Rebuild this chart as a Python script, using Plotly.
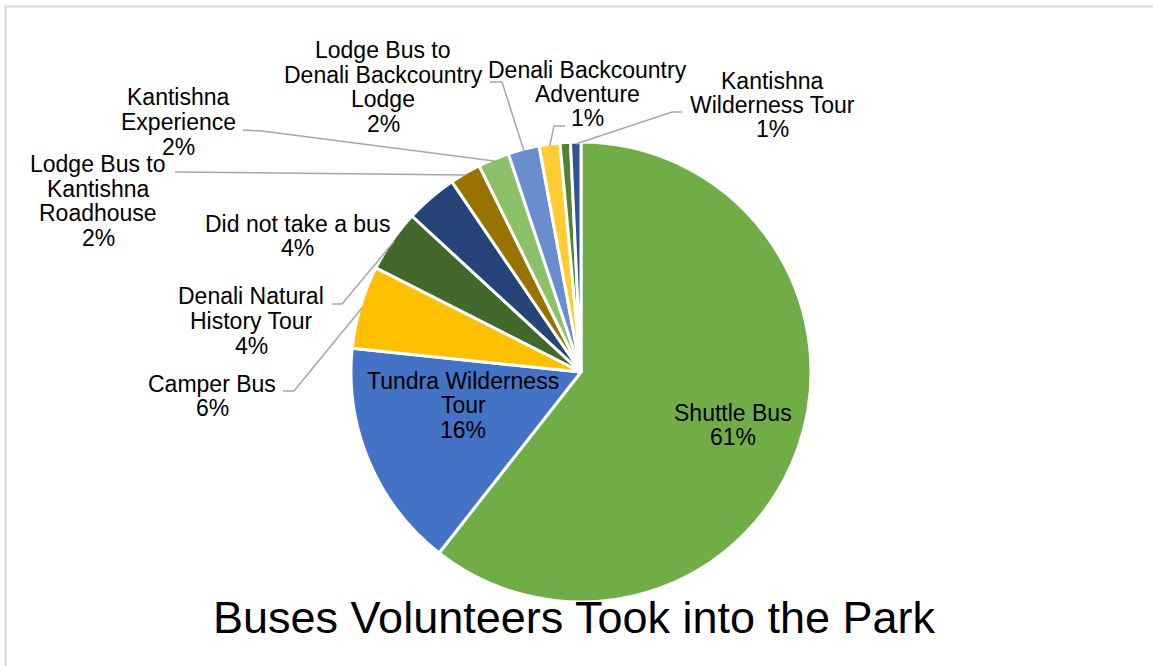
import math
import plotly.graph_objects as go

# Survey responses: which bus volunteers took into the park
categories = [
    "Shuttle Bus",
    "Tundra Wilderness Tour",
    "Camper Bus",
    "Denali Natural History Tour",
    "Did not take a bus",
    "Lodge Bus to Kantishna Roadhouse",
    "Kantishna Experience",
    "Lodge Bus to Denali Backcountry Lodge",
    "Denali Backcountry Adventure",
    "Other",
    "Kantishna Wilderness Tour",
]
counts = [83, 22, 8, 6, 5, 3, 3, 3, 2, 1, 1]
slice_colors = [
    "#70AD47", "#4472C4", "#FFC000",
    "#43682B", "#264478", "#997300",
    "#8CC168", "#698ED0", "#FFCC33",
    "#548235", "#2F5597",
]
title_text = "Buses Volunteers Took into the Park"

# ---- layout (pixels) ----
W, H = 1153, 666
CX, CY, R = 581, 372, 230
FONT = "Arial, Liberation Sans, Helvetica, sans-serif"
LABEL_SIZE = 23
LINE_STEP = 24.5
LEADER_COLOR = "#A6A6A6"

# wrapped label text, label centre, and the bend points of each leader line
label_layout = {
    "Shuttle Bus": dict(lines=["Shuttle Bus"], pos=(733, 425), leader=None),
    "Tundra Wilderness Tour": dict(lines=["Tundra Wilderness", "Tour"], pos=(463, 405), leader=None),
    "Camper Bus": dict(lines=["Camper Bus"], pos=(212, 396), leader=[(283, 391), (294, 391)]),
    "Denali Natural History Tour": dict(lines=["Denali Natural", "History Tour"], pos=(251, 321),
                                        leader=[(332, 304), (342, 304)]),
    "Did not take a bus": dict(lines=["Did not take a bus"], pos=(297, 236), leader=None),
    "Lodge Bus to Kantishna Roadhouse": dict(lines=["Lodge Bus to", "Kantishna", "Roadhouse"], pos=(98, 201),
                                             leader=[(175, 172)]),
    "Kantishna Experience": dict(lines=["Kantishna", "Experience"], pos=(178, 122),
                                 leader=[(243, 130), (262, 131)]),
    "Lodge Bus to Denali Backcountry Lodge": dict(lines=["Lodge Bus to", "Denali Backcountry", "Lodge"],
                                                  pos=(383, 87), leader=[(490, 82), (502, 82)]),
    "Denali Backcountry Adventure": dict(lines=["Denali Backcountry", "Adventure"], pos=(587, 94),
                                         leader=[(565, 126), (554, 126)]),
    "Kantishna Wilderness Tour": dict(lines=["Kantishna", "Wilderness Tour"], pos=(772, 105),
                                      leader=[(682, 112), (672, 112)]),
}


def px(x):
    return x / W


def py(y):
    return 1 - y / H


fig = go.Figure(
    go.Pie(
        labels=categories,
        values=counts,
        sort=False,
        direction="clockwise",
        rotation=0,
        textinfo="none",
        hoverinfo="label+percent",
        marker=dict(colors=slice_colors, line=dict(color="white", width=3)),
        domain=dict(x=[px(CX - R), px(CX + R)], y=[py(CY + R), py(CY - R)]),
        showlegend=False,
    )
)

annotations = []
shapes = []
total = sum(counts)
cum = 0
for name, v in zip(categories, counts):
    mid_deg = (cum + v / 2) / total * 360
    cum += v
    spec = label_layout.get(name)
    if spec is None:
        continue
    pct = round(100 * v / total)
    lines = spec["lines"] + [f"{pct}%"]
    lx, ly = spec["pos"]
    n = len(lines)
    # one annotation per line keeps the tight line spacing of the labels
    for i, line in enumerate(lines):
        annotations.append(dict(
            x=px(lx), y=py(ly + (i - (n - 1) / 2) * LINE_STEP),
            xref="paper", yref="paper",
            xanchor="center", yanchor="middle", align="center",
            text=line, showarrow=False,
            font=dict(family=FONT, size=LABEL_SIZE, color="black"),
        ))
    if spec["leader"]:
        a = math.radians(mid_deg)
        ex = CX + (R - 2) * math.sin(a)
        ey = CY - (R - 2) * math.cos(a)
        pts = spec["leader"] + [(ex, ey)]
        path = "M " + " L ".join(f"{px(x):.5f},{py(y):.5f}" for x, y in pts)
        shapes.append(dict(type="path", path=path, xref="paper", yref="paper",
                           line=dict(color=LEADER_COLOR, width=1.5)))

# chart title under the pie
annotations.append(dict(
    x=px(574), y=py(617), xref="paper", yref="paper",
    xanchor="center", yanchor="middle",
    text=title_text, showarrow=False,
    font=dict(family=FONT, size=45, color="black"),
))

# light frame of the chart area
shapes.append(dict(type="rect", xref="paper", yref="paper",
                   x0=px(5.5), y0=py(6.5), x1=1.02, y1=-0.02,
                   line=dict(color="#D9D9D9", width=2), fillcolor="rgba(0,0,0,0)"))

fig.update_layout(
    width=W, height=H,
    margin=dict(l=0, r=0, t=0, b=0),
    paper_bgcolor="white",
    plot_bgcolor="white",
    annotations=annotations,
    shapes=shapes,
)

fig.write_html("out.html")
